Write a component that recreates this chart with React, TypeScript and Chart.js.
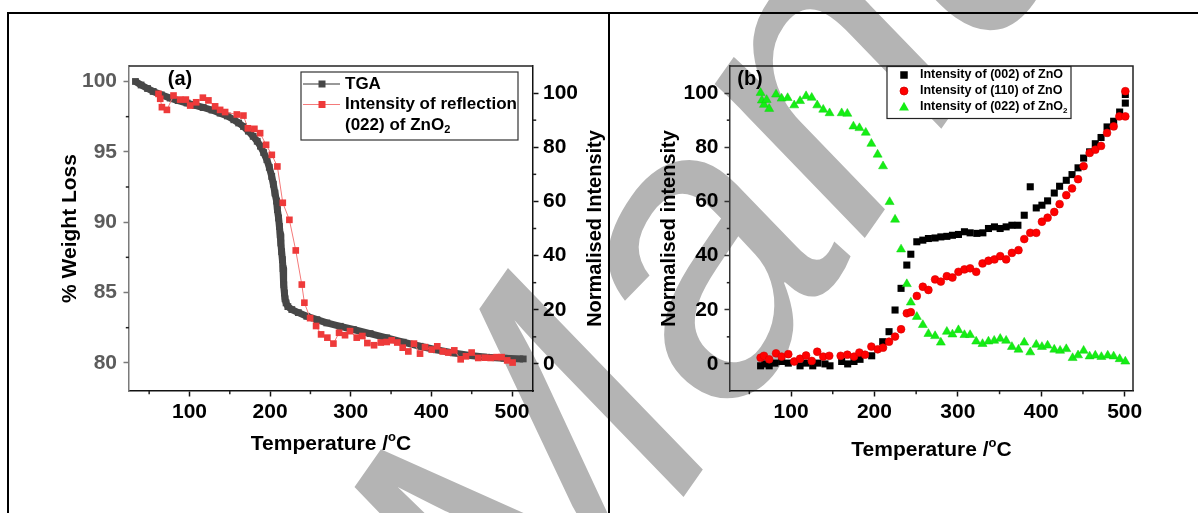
import React, { useEffect, useRef } from 'react';
import { Chart, registerables } from 'chart.js';

Chart.register(...registerables);

// ---------- Panel (a): TGA curve and (022) ZnO2 reflection ----------
const tgaTemperature = [
  33, 40, 48, 55, 65, 76, 86, 97, 107, 117, 128, 138, 147, 155, 161, 167, 173, 179, 184, 188,
  192, 196, 199, 202, 204, 206, 208, 209, 210.5, 211.5, 212.5, 213.3, 214.3, 215.2, 216, 216.5,
  217, 217.7, 218.5, 219.8, 222, 226.9, 235, 245.5, 258, 270.3, 287, 303.2, 324, 344.6, 365,
  385.9, 406, 427.1, 448, 468.5, 490, 513.9,
];
const tgaWeight = [
  100.0, 99.75, 99.5, 99.29, 99.05, 98.82, 98.64, 98.47, 98.3, 98.15, 97.97, 97.75, 97.55, 97.28,
  97.05, 96.8, 96.47, 96.1, 95.75, 95.4, 94.95, 94.44, 93.9, 93.25, 92.7, 92.07, 91.5, 90.89, 90.3,
  89.7, 89.1, 88.52, 87.9, 87.34, 86.7, 86.15, 85.55, 84.97, 84.55, 84.26, 84.0, 83.79, 83.57,
  83.31, 83.07, 82.84, 82.6, 82.37, 82.08, 81.78, 81.47, 81.18, 80.93, 80.71, 80.53, 80.4, 80.33,
  80.28,
];
const reflTemperature = [
  61.6, 63.7, 65.8, 72, 80.2, 88.5, 95.5, 100.9, 108.3, 116.6, 123.5, 131.8, 138, 144.2, 158.7,
  166.9, 172.4, 180.5, 187.6, 195, 202.1, 209, 215.7, 223.9, 231.8, 239.3, 242.5, 249.6, 257,
  263.2, 271, 278.5, 285.5, 292.9, 299.1, 307.4, 314.4, 320.6, 328.9, 337.2, 344.6, 350.8, 357.7,
  364.4, 371.4, 378.4, 385.9, 392.1, 400.4, 407.3, 414, 420.9, 428.4, 436.3, 442.9, 449.9, 458.1,
  466.4, 473.5, 480.9, 487.1, 494, 500.7,
];
const reflIntensity = [
  99.7, 97.9, 94.8, 93.8, 99.1, 97.6, 97.6, 95.4, 96.6, 98.3, 97.3, 95.1, 93.8, 93.0, 92.1, 91.7,
  87.0, 86.8, 85.2, 80.9, 77.2, 72.9, 59.5, 53.2, 41.9, 29.3, 22.6, 16.9, 14.0, 10.9, 9.7, 7.5,
  11.5, 10.6, 12.1, 9.7, 10.3, 7.7, 6.9, 7.9, 8.1, 8.7, 7.9, 6.0, 4.6, 7.5, 3.8, 6.2, 5.3, 6.5,
  4.6, 4.2, 5.0, 1.7, 2.8, 4.2, 2.2, 2.3, 2.2, 2.5, 2.5, 1.3, 0.5,
];

// ---------- Panel (b): normalised reflection intensities ----------
const zno002Temperature = [
  63.5, 68.6, 73.8, 80.7, 88.7, 96.7, 110.8, 118, 126, 132.2, 140.7, 146.7, 160.7, 167.9, 175.5,
  182.7, 196.7, 209.9, 217.5, 224.7, 231.9, 238.8, 243.6, 250.8, 258, 264.7, 272.7, 279.6, 286.8,
  293.5, 300.7, 307.9, 314.7, 322.8, 330, 336.7, 343.9, 350.7, 357.9, 364.8, 372, 379.6, 386.8,
  394, 400.8, 407.6, 415.6, 422, 430, 436.9, 444.1, 450.8, 458, 464.8, 471.7, 478.9, 486.8, 494,
  500.8, 500.8,
];
const zno002Intensity = [
  -0.7, 0, -0.7, 0.3, 0.9, 0.3, -0.7, 0.3, -0.7, 0.3, 0, -0.7, 0.9, 0, 0.9, 1.7, 3, 8.2, 11.9,
  19.9, 27.9, 36.5, 40.5, 45.1, 45.7, 46.3, 46.5, 46.9, 47.1, 47.5, 47.8, 48.8, 48.4, 48.2, 48.4,
  50, 50.6, 50, 50.6, 51.2, 51.2, 54.9, 65.4, 57.6, 58.6, 60.2, 63.1, 65.6, 67.8, 69.9, 72.4, 76,
  78.3, 81.3, 83.6, 87.5, 89.6, 93, 96.3, 99.5,
];
const zno110Temperature = [
  63.5, 67.5, 73.8, 82, 88.7, 96.7, 103.8, 110.8, 118, 124.8, 131.4, 138.6, 145.8, 159.5, 167.5,
  175.5, 181.9, 188.7, 196.3, 203.9, 210.3, 217.5, 224.7, 231.9, 238.8, 243.6, 250.8, 258, 264.7,
  272.7, 279.6, 286.8, 293.5, 300.7, 307.9, 314.7, 322, 329.6, 336.7, 343.9, 350.8, 357.9, 364.8,
  372.7, 379.6, 386.8, 394, 400.8, 407.6, 415.6, 422, 430, 436.9, 444.1, 450.8, 458, 464.8, 471.7,
  478.9, 486.8, 493.6, 500.8, 500.8,
];
const zno110Intensity = [
  2.3, 3, 1.7, 3.9, 2.7, 3.6, 0.9, 1.9, 3.1, 1.1, 4.5, 2.7, 3, 3, 3.4, 2.7, 4.2, 3.4, 6.4, 5.4, 6,
  8.2, 10.1, 12.8, 18.7, 19.1, 25.1, 28.5, 27.3, 31.2, 30.4, 32.4, 31.9, 34, 34.9, 35.3, 34, 37.1,
  38.1, 38.6, 39.8, 38.6, 41, 42, 46.1, 48.4, 48.4, 52.5, 54, 56.1, 59, 62.3, 64.8, 68.2, 73, 77.9,
  79.1, 80.5, 85.3, 87.7, 91.4, 91.4, 100.7,
];
const zno2022Temperature = [
  63.5, 65, 67.5, 70.7, 73.8, 82, 88.7, 95.9, 103.8, 110.8, 118, 124.8, 131.4, 138.6, 146.2, 160.7,
  167.5, 174.8, 182, 189.6, 196.3, 203.8, 210.3, 218.2, 224.7, 231.9, 238.8, 243.6, 250.8, 258,
  264.7, 272.7, 279.6, 286.8, 293.5, 300.7, 307.9, 314.7, 322, 329.6, 336.7, 343.6, 350.8, 357.9,
  364.8, 372.7, 379.6, 386.8, 394, 400.8, 407.6, 415.6, 422.6, 430, 437.6, 444.1, 450.8, 458,
  464.8, 472.1, 479.7, 486.8, 494, 500.8,
];
const zno2022Intensity = [
  100.1, 97.3, 95.7, 97.5, 94.2, 99.5, 98, 98.2, 95.5, 97.1, 98.9, 98.3, 95.5, 93.9, 92.6, 92.6,
  92.4, 87.7, 87.1, 85.4, 81.3, 77.3, 73, 59.8, 53.3, 42.3, 29.5, 22.7, 17.4, 14.4, 11.1, 10.3,
  7.9, 11.9, 10.9, 12.5, 10.7, 10.7, 8.3, 7.4, 8.3, 8.6, 9.3, 8.6, 6.3, 5.3, 7.9, 4.3, 7.1, 6.3,
  6.8, 5.3, 4.9, 5.5, 2.2, 3.2, 4.9, 2.8, 3.1, 2.6, 3.1, 2.8, 1.8, 0.9,
];

// ---------- Axis ticks ----------
const temperatureTicks = [100, 200, 300, 400, 500];
const temperatureMinorTicks = [50, 150, 250, 350, 450];
const weightTicks = [80, 85, 90, 95, 100];
const weightMinorTicks = [82.5, 87.5, 92.5, 97.5];
const intensityTicks = [0, 20, 40, 60, 80, 100];
const intensityMinorTicks = [10, 30, 50, 70, 90];

const watermarkText = 'Accepted Manuscript';

const FONT = '"Liberation Sans", Arial, Helvetica, sans-serif';
const TGA_GREY = '#474747';
const REFL_RED = '#ee3a3a';

type Run = { t: string; sup?: boolean; sub?: boolean };

const pairs = (xs: number[], ys: number[]) => xs.map((x, i) => ({ x, y: ys[i] }));

function drawRuns(
  ctx: CanvasRenderingContext2D,
  runs: Run[],
  x: number,
  y: number,
  size: number,
  align: 'left' | 'center',
  color: string,
) {
  const base = `bold ${size}px ${FONT}`;
  const small = `bold ${Math.round(size * 0.62)}px ${FONT}`;
  ctx.textBaseline = 'middle';
  ctx.textAlign = 'left';
  ctx.fillStyle = color;
  const widths = runs.map((r) => {
    ctx.font = r.sup || r.sub ? small : base;
    return ctx.measureText(r.t).width;
  });
  const total = widths.reduce((a, b) => a + b, 0);
  let cx = align === 'center' ? x - total / 2 : x;
  runs.forEach((r, i) => {
    ctx.font = r.sup || r.sub ? small : base;
    const dy = r.sup ? -size * 0.33 : r.sub ? size * 0.3 : 0;
    ctx.fillText(r.t, cx, y + dy);
    cx += widths[i];
  });
}

function drawVertical(ctx: CanvasRenderingContext2D, text: string, x: number, y: number, size: number) {
  ctx.save();
  ctx.translate(x, y);
  ctx.rotate(-Math.PI / 2);
  drawRuns(ctx, [{ t: text }], 0, 0, size, 'center', '#000');
  ctx.restore();
}

type Marker = 'rect' | 'circle' | 'triangle';

function drawMarker(ctx: CanvasRenderingContext2D, kind: Marker, x: number, y: number, s: number, fill: string, stroke?: string) {
  ctx.beginPath();
  if (kind === 'rect') {
    ctx.rect(x - s / 2, y - s / 2, s, s);
  } else if (kind === 'circle') {
    ctx.arc(x, y, s / 2, 0, Math.PI * 2);
  } else {
    ctx.moveTo(x, y - s * 0.55);
    ctx.lineTo(x + s * 0.55, y + s * 0.42);
    ctx.lineTo(x - s * 0.55, y + s * 0.42);
    ctx.closePath();
  }
  ctx.fillStyle = fill;
  ctx.fill();
  if (stroke) {
    ctx.strokeStyle = stroke;
    ctx.lineWidth = 0.8;
    ctx.stroke();
  }
}

type MinorSpec = { id: string; values: number[]; side: 'bottom' | 'left' | 'right' };

function minorTicks(chart: any, specs: MinorSpec[]) {
  const ctx: CanvasRenderingContext2D = chart.ctx;
  const { left, right, bottom } = chart.chartArea;
  ctx.save();
  ctx.strokeStyle = '#222';
  ctx.lineWidth = 1.5;
  specs.forEach((sp) => {
    const scale = chart.scales[sp.id];
    sp.values.forEach((v) => {
      const p = scale.getPixelForValue(v);
      ctx.beginPath();
      if (sp.side === 'bottom') {
        ctx.moveTo(p, bottom);
        ctx.lineTo(p, bottom + 3.2);
      } else if (sp.side === 'left') {
        ctx.moveTo(left, p);
        ctx.lineTo(left - 3.2, p);
      } else {
        ctx.moveTo(right, p);
        ctx.lineTo(right + 3.2, p);
      }
      ctx.stroke();
    });
  });
  ctx.restore();
}

function linearAxis(
  position: 'bottom' | 'left' | 'right',
  min: number,
  max: number,
  ticks: number[],
  opts: { labelColor: string; lineColor: string; padding: number },
) {
  const horizontal = position === 'bottom';
  return {
    type: 'linear',
    position,
    min,
    max,
    afterBuildTicks: (s: any) => {
      s.ticks = ticks.map((value) => ({ value }));
    },
    afterFit: (s: any) => {
      if (horizontal) s.height = 60;
      else s.width = 60;
    },
    ticks: {
      font: { family: FONT, size: 21, weight: 'bold' },
      color: opts.labelColor,
      padding: opts.padding,
      autoSkip: false,
      maxRotation: 0,
    },
    grid: {
      display: true,
      drawOnChartArea: false,
      drawTicks: true,
      tickLength: 5.5,
      tickWidth: 1.5,
      tickColor: opts.lineColor,
    },
    border: { display: true, color: opts.lineColor, width: 1.5 },
  };
}

function makeChartA(canvas: HTMLCanvasElement) {
  const decor = {
    id: 'decorA',
    afterDraw(chart: any) {
      const ctx: CanvasRenderingContext2D = chart.ctx;
      const { left, right, top, bottom } = chart.chartArea;
      ctx.save();
      // top edge of the frame
      ctx.strokeStyle = '#222';
      ctx.lineWidth = 1.5;
      ctx.beginPath();
      ctx.moveTo(left, top);
      ctx.lineTo(right, top);
      ctx.stroke();
      ctx.restore();

      minorTicks(chart, [
        { id: 'x', values: temperatureMinorTicks, side: 'bottom' },
        { id: 'y', values: weightMinorTicks, side: 'left' },
        { id: 'y2', values: intensityMinorTicks, side: 'right' },
      ]);

      // axis titles
      drawRuns(ctx, [{ t: 'Temperature /' }, { t: 'o', sup: true }, { t: 'C' }], (left + right) / 2, 444, 21, 'center', '#000');
      drawVertical(ctx, '% Weight Loss', 70, (top + bottom) / 2, 21);
      drawVertical(ctx, 'Normalised Intensity', 595, (top + bottom) / 2, 20);

      // panel label
      drawRuns(ctx, [{ t: '(a)' }], 180, 79, 20, 'center', '#000');

      // legend
      const bx = 301;
      const by = 72;
      ctx.save();
      ctx.fillStyle = '#fff';
      ctx.fillRect(bx, by, 217, 68);
      ctx.strokeStyle = '#333';
      ctx.lineWidth = 1.2;
      ctx.strokeRect(bx, by, 217, 68);
      const rows = [84, 104.5, 125];
      ctx.lineWidth = 1;
      ctx.strokeStyle = '#333';
      ctx.beginPath();
      ctx.moveTo(bx + 2, rows[0]);
      ctx.lineTo(bx + 39, rows[0]);
      ctx.stroke();
      drawMarker(ctx, 'rect', bx + 21, rows[0], 7, TGA_GREY);
      ctx.strokeStyle = '#f47a7a';
      ctx.beginPath();
      ctx.moveTo(bx + 2, rows[1]);
      ctx.lineTo(bx + 39, rows[1]);
      ctx.stroke();
      drawMarker(ctx, 'rect', bx + 21, rows[1], 7, REFL_RED);
      ctx.restore();
      drawRuns(ctx, [{ t: 'TGA' }], bx + 44, rows[0], 17, 'left', '#000');
      drawRuns(ctx, [{ t: 'Intensity of reflection' }], bx + 44, rows[1], 17, 'left', '#000');
      drawRuns(ctx, [{ t: '(022) of ZnO' }, { t: '2', sub: true }], bx + 44, rows[2], 17, 'left', '#000');
    },
  };

  return new Chart(canvas, {
    type: 'scatter',
    data: {
      datasets: [
        {
          label: 'TGA',
          data: pairs(tgaTemperature, tgaWeight),
          yAxisID: 'y',
          showLine: true,
          borderColor: TGA_GREY,
          backgroundColor: TGA_GREY,
          borderWidth: 7,
          borderJoinStyle: 'round',
          pointStyle: 'rect',
          pointRadius: 4.8,
          pointBorderWidth: 0,
          order: 2,
        },
        {
          label: 'Intensity of reflection (022) of ZnO2',
          data: pairs(reflTemperature, reflIntensity),
          yAxisID: 'y2',
          showLine: true,
          borderColor: '#f47a7a',
          borderWidth: 1,
          backgroundColor: REFL_RED,
          pointStyle: 'rect',
          pointRadius: 4.7,
          pointBorderWidth: 0,
          order: 1,
        },
      ],
    },
    options: {
      animation: false,
      responsive: false,
      maintainAspectRatio: false,
      events: [],
      layout: { padding: { left: 69, right: 16, top: 66, bottom: 62 } },
      plugins: { legend: { display: false }, tooltip: { enabled: false }, title: { display: false } },
      scales: {
        x: linearAxis('bottom', 25, 526, temperatureTicks, { labelColor: '#000', lineColor: '#111', padding: 3.5 }),
        y: linearAxis('left', 78, 101.1, weightTicks, { labelColor: '#5c5c5c', lineColor: '#7a7a7a', padding: 6.5 }),
        y2: linearAxis('right', -10, 110, intensityTicks, { labelColor: '#000', lineColor: '#111', padding: 4.5 }),
      },
    } as any,
    plugins: [decor],
  });
}

function makeChartB(canvas: HTMLCanvasElement) {
  const decor = {
    id: 'decorB',
    afterDraw(chart: any) {
      const ctx: CanvasRenderingContext2D = chart.ctx;
      const { left, right, top, bottom } = chart.chartArea;
      ctx.save();
      ctx.strokeStyle = '#222';
      ctx.lineWidth = 1.5;
      ctx.beginPath();
      ctx.moveTo(left, top);
      ctx.lineTo(right, top);
      ctx.lineTo(right, bottom);
      ctx.stroke();
      ctx.restore();

      minorTicks(chart, [
        { id: 'x', values: temperatureMinorTicks, side: 'bottom' },
        { id: 'y', values: intensityMinorTicks, side: 'left' },
      ]);

      drawRuns(ctx, [{ t: 'Temperature /' }, { t: 'o', sup: true }, { t: 'C' }], (left + right) / 2, 450, 21, 'center', '#000');
      drawVertical(ctx, 'Normalised intensity', 60, (top + bottom) / 2, 20);
      drawRuns(ctx, [{ t: '(b)' }], 141, 79.5, 20, 'center', '#000');

      // legend
      const bx = 278;
      const by = 66.5;
      ctx.save();
      ctx.fillStyle = '#fff';
      ctx.fillRect(bx, by, 184, 52);
      ctx.strokeStyle = '#222';
      ctx.lineWidth = 1.2;
      ctx.strokeRect(bx, by, 184, 52);
      ctx.restore();
      const rows = [75, 91, 106.7];
      drawMarker(ctx, 'rect', bx + 17, rows[0], 7.5, '#000');
      drawMarker(ctx, 'circle', bx + 17, rows[1], 8, '#ff0000', '#d00000');
      drawMarker(ctx, 'triangle', bx + 17, rows[2], 9, '#14ee14');
      drawRuns(ctx, [{ t: 'Intensity of (002) of ZnO' }], bx + 33, rows[0], 12.5, 'left', '#000');
      drawRuns(ctx, [{ t: 'Intensity of (110) of ZnO' }], bx + 33, rows[1], 12.5, 'left', '#000');
      drawRuns(ctx, [{ t: 'Intensity of (022) of ZnO' }, { t: '2', sub: true }], bx + 33, rows[2], 12.5, 'left', '#000');
    },
  };

  return new Chart(canvas, {
    type: 'scatter',
    data: {
      datasets: [
        {
          label: 'Intensity of (002) of ZnO',
          data: pairs(zno002Temperature, zno002Intensity),
          backgroundColor: '#000',
          pointStyle: 'rect',
          pointRadius: 5,
          pointBorderWidth: 0,
          order: 3,
        },
        {
          label: 'Intensity of (110) of ZnO',
          data: pairs(zno110Temperature, zno110Intensity),
          backgroundColor: '#ff0000',
          borderColor: '#d40000',
          pointStyle: 'circle',
          pointRadius: 3.9,
          pointBorderWidth: 0.6,
          order: 2,
        },
        {
          label: 'Intensity of (022) of ZnO2',
          data: pairs(zno2022Temperature, zno2022Intensity),
          backgroundColor: '#14ee14',
          borderColor: '#10d010',
          pointStyle: 'triangle',
          pointRadius: 5.2,
          pointBorderWidth: 0.5,
          order: 1,
        },
      ],
    },
    options: {
      animation: false,
      responsive: false,
      maintainAspectRatio: false,
      events: [],
      layout: { padding: { left: 61, right: 65, top: 66, bottom: 62 } },
      plugins: { legend: { display: false }, tooltip: { enabled: false }, title: { display: false } },
      scales: {
        x: linearAxis('bottom', 26.8, 510, temperatureTicks, { labelColor: '#000', lineColor: '#111', padding: 3.5 }),
        y: linearAxis('left', -10, 110, intensityTicks, { labelColor: '#000', lineColor: '#333', padding: 6 }),
      },
    } as any,
    plugins: [decor],
  });
}

function drawWatermark(canvas: HTMLCanvasElement) {
  const ctx = canvas.getContext('2d');
  if (!ctx) return;
  ctx.clearRect(0, 0, canvas.width, canvas.height);
  ctx.save();
  const size = 400;
  ctx.font = `italic ${size}px ${FONT}`;
  ctx.fillStyle = '#b4b4b4';
  ctx.textBaseline = 'alphabetic';
  ctx.textAlign = 'left';
  ctx.translate(712, 275);
  ctx.rotate((-55 * Math.PI) / 180);
  const pre = ctx.measureText('Accepted M').width;
  const aw = ctx.measureText('a').width;
  ctx.fillText(watermarkText, -(pre + aw / 2), 0.26 * size);
  ctx.restore();
}

export default function App() {
  const aRef = useRef<HTMLCanvasElement>(null);
  const bRef = useRef<HTMLCanvasElement>(null);
  const wmRef = useRef<HTMLCanvasElement>(null);

  useEffect(() => {
    const chartA = makeChartA(aRef.current!);
    const chartB = makeChartB(bRef.current!);
    drawWatermark(wmRef.current!);
    return () => {
      chartA.destroy();
      chartB.destroy();
    };
  }, []);

  const line = (l: number, t: number, w: number, h: number) => (
    <div style={{ position: 'absolute', left: l, top: t, width: w, height: h, background: '#000' }} />
  );

  return (
    <div style={{ position: 'fixed', left: 0, top: 0, width: 1198, height: 513, background: '#fff', overflow: 'hidden' }}>
      <canvas ref={wmRef} width={1198} height={513} style={{ position: 'absolute', left: 0, top: 0 }} />
      {line(7, 12, 1191, 2)}
      {line(7, 12, 2, 501)}
      {line(608, 12, 2, 501)}
      <canvas ref={aRef} width={609} height={513} style={{ position: 'absolute', left: 0, top: 0, width: 609, height: 513 }} />
      <canvas ref={bRef} width={589} height={513} style={{ position: 'absolute', left: 609, top: 0, width: 589, height: 513 }} />
    </div>
  );
}
